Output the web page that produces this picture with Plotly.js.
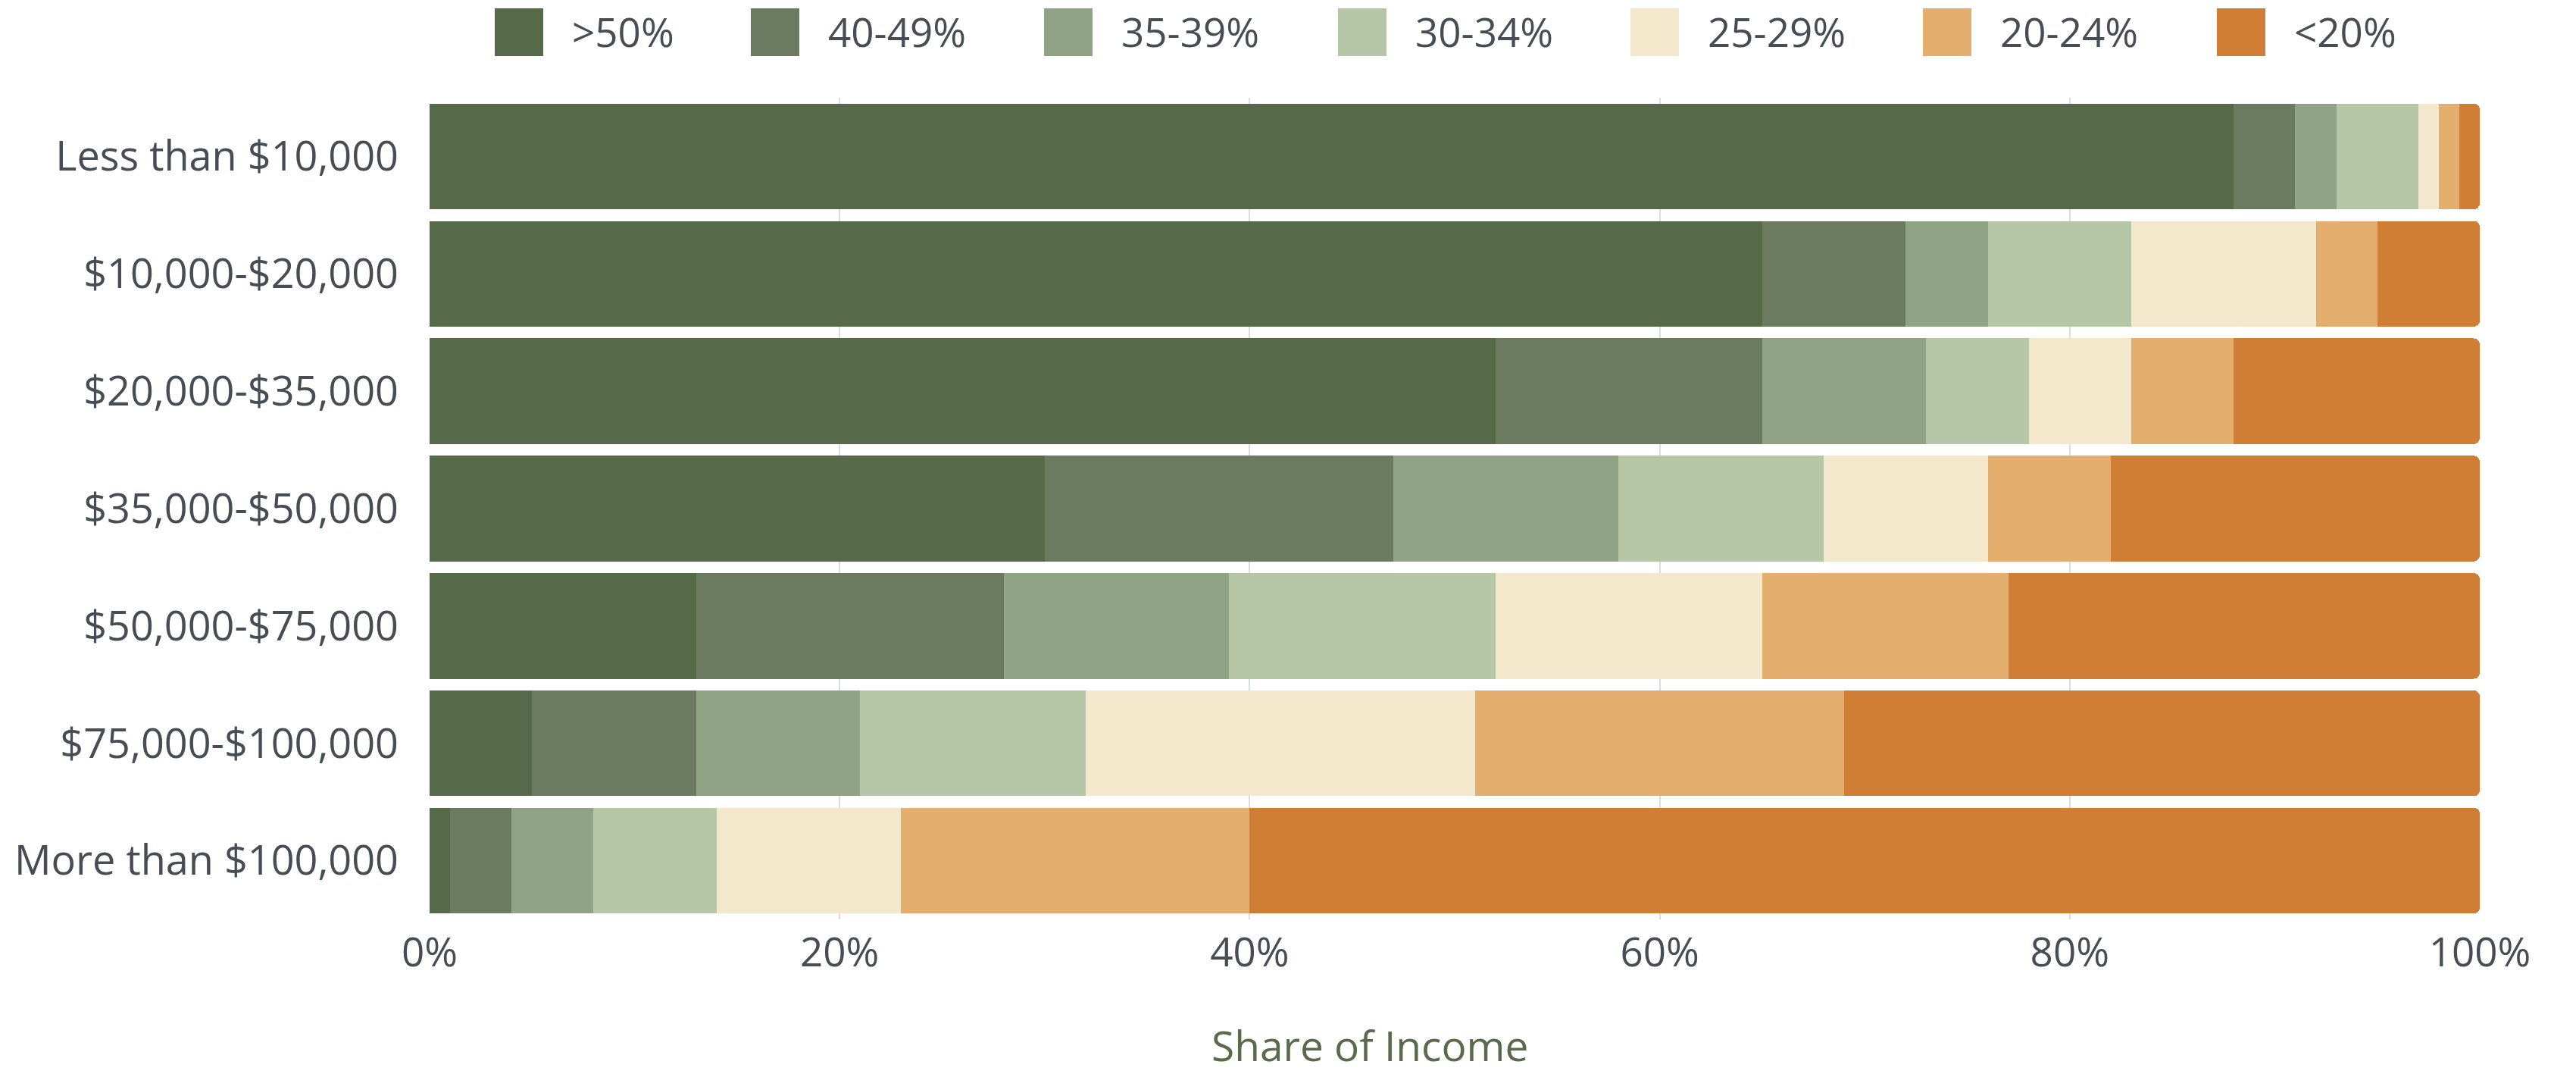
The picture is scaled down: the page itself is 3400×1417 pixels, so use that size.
<!DOCTYPE html>
<html>
<head>
<meta charset="utf-8">
<script src="https://cdn.plot.ly/plotly-3.0.1.min.js"></script>
<style>
  html, body { margin: 0; padding: 0; background: #ffffff; }
  #chart { width: 3400px; height: 1417px; }
</style>
</head>
<body>
<div id="chart"></div>
<script>
// ---- data ----
const incomeGroups = [
  "Less than $10,000",
  "$10,000-$20,000",
  "$20,000-$35,000",
  "$35,000-$50,000",
  "$50,000-$75,000",
  "$75,000-$100,000",
  "More than $100,000"
];
const seriesNames = [">50%", "40-49%", "35-39%", "30-34%", "25-29%", "20-24%", "<20%"];
const over50   = [88, 65, 52, 30, 13,  5,  1];
const from40   = [ 3,  7, 13, 17, 15,  8,  3];
const from35   = [ 2,  4,  8, 11, 11,  8,  4];
const from30   = [ 4,  7,  5, 10, 13, 11,  6];
const from25   = [ 1,  9,  5,  8, 13, 19,  9];
const from20   = [ 1,  3,  5,  6, 12, 18, 17];
const under20  = [ 1,  5, 12, 18, 23, 31, 60];
const seriesValues = [over50, from40, from35, from30, from25, from20, under20];
const seriesColors = ["#566a49", "#6a7b5f", "#91a385", "#b5c7a6", "#f4e8cc", "#e4ae6f", "#d07d36"];
const xTickVals = [0, 20, 40, 60, 80, 100];
const xTickText = ["0%", "20%", "40%", "60%", "80%", "100%"];

// ---- layout geometry ----
const W = 3400, H = 1417;
const M = { l: 567, r: 127, t: 129, b: 204 };
const plotW = W - M.l - M.r, plotH = H - M.t - M.b;
const px2x = p => (p - M.l) / plotW;
const py2y = p => (H - M.b - p) / plotH;

const textColor = "#474d55";
const fontFam = "'Open Sans', 'Noto Sans', sans-serif";

const traces = seriesNames.map((name, i) => ({
  type: "bar",
  orientation: "h",
  name: name,
  y: incomeGroups,
  x: seriesValues[i],
  marker: { color: seriesColors[i], line: { width: 0 } },
  hoverinfo: "x+y+name"
}));

// custom legend (large swatches)
const legendLefts = [653, 991, 1378, 1766, 2152, 2538, 2926];
const shapes = [];
const annotations = [];
seriesNames.forEach((name, i) => {
  const x0 = legendLefts[i];
  shapes.push({
    type: "rect", xref: "paper", yref: "paper",
    x0: px2x(x0), x1: px2x(x0 + 64),
    y0: py2y(74), y1: py2y(11),
    fillcolor: seriesColors[i], line: { width: 0 }, layer: "above"
  });
  annotations.push({
    xref: "paper", yref: "paper",
    x: px2x(x0 + 100), y: py2y(42),
    xanchor: "left", yanchor: "middle",
    text: name, showarrow: false,
    font: { family: fontFam, size: 53, color: textColor }
  });
});
// x-axis title
annotations.push({
  xref: "paper", yref: "paper",
  x: px2x(1808), y: py2y(1378),
  xanchor: "center", yanchor: "middle",
  text: "Share of Income", showarrow: false,
  font: { family: fontFam, size: 55, color: "#5a6b4d" }
});

const layout = {
  width: W, height: H,
  margin: M,
  paper_bgcolor: "#ffffff",
  plot_bgcolor: "#ffffff",
  barmode: "stack",
  bargap: 0.1,
  barcornerradius: 8,
  showlegend: false,
  font: { family: fontFam, color: textColor, size: 53 },
  xaxis: {
    range: [0, 100],
    tickvals: xTickVals,
    ticktext: xTickText,
    showgrid: true,
    gridcolor: "#d9dee4",
    gridwidth: 2,
    zeroline: false,
    showline: false,
    ticks: "",
    ticklabelstandoff: 8,
    tickfont: { family: fontFam, size: 53, color: textColor },
    fixedrange: true
  },
  yaxis: {
    autorange: "reversed",
    showgrid: false,
    zeroline: false,
    showline: false,
    ticks: "",
    ticklabelstandoff: 40,
    tickfont: { family: fontFam, size: 54, color: textColor },
    fixedrange: true
  },
  shapes: shapes,
  annotations: annotations
};

Plotly.newPlot("chart", traces, layout, { displayModeBar: false, staticPlot: true });
</script>
</body>
</html>
